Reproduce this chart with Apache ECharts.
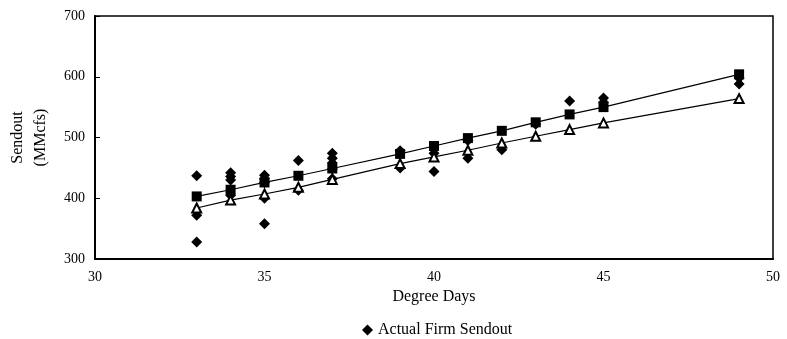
<!DOCTYPE html>
<html>
<head>
<meta charset="utf-8">
<script src="https://cdn.jsdelivr.net/npm/echarts@6/dist/echarts.min.js"></script>
<style>html,body{margin:0;padding:0;background:#fff;}#c{width:787px;height:339px;}</style>
</head>
<body>
<div id="c"></div>
<script>
// Actual firm sendout observations [degree days, MMcf]
const actualX = [33,33,33,34,34,34,34,35,35,35,35,35,36,36,37,37,37,37,37,39,39,40,40,41,41,42,43,44,45,45,49,49];
const actualY = [437,372,328,442,436,430,405,438,432,426,400,358,462,413,474,466,458,448,432,478,450,474,444,495,466,480,522,560,565,558,598,588];
// Fitted model 1 (filled squares)
const fitX = [33,34,35,36,37,39,40,41,42,43,44,45,49];
const fit1Y = [403,414,426,437,449,473,486,499,511,525,538,550,604];
// Fitted model 2 (hollow triangles)
const fit2Y = [384,397,407,418,431,457,468,479,491,502,513,524,564];
const xTicks = [30,35,40,45,50];
const yTicks = [300,400,500,600,700];
const legendName = 'Actual Firm Sendout';

const font = '"Liberation Serif", "DejaVu Serif", serif';
const pair = (xs, ys) => xs.map((x, i) => [x, ys[i]]);

const chart = echarts.init(document.getElementById('c'));
chart.setOption({
  animation: false,
  backgroundColor: '#fff',
  textStyle: { fontFamily: font, color: '#000' },
  grid: { left: 95, right: 14, top: 16, bottom: 80, containLabel: false, outerBoundsMode: 'none',
          show: true, borderColor: '#000', borderWidth: 1.5 },
  legend: {
    data: [legendName], left: 357, top: 317, icon: 'diamond', itemWidth: 11, itemHeight: 11, itemGap: 4,
    textStyle: { fontFamily: font, fontSize: 16, color: '#000' }
  },
  xAxis: {
    type: 'value', min: xTicks[0], max: xTicks[xTicks.length - 1], interval: 5,
    name: 'Degree Days', nameLocation: 'middle', nameGap: 25,
    nameTextStyle: { fontFamily: font, fontSize: 16, color: '#000' },
    axisLine: { lineStyle: { color: '#000', width: 2 } },
    axisTick: { show: false },
    axisLabel: { fontFamily: font, fontSize: 14, color: '#000', margin: 11 },
    splitLine: { show: false }
  },
  yAxis: {
    type: 'value', min: yTicks[0], max: yTicks[yTicks.length - 1], interval: 100,
    name: 'Sendout\n(MMcfs)', nameLocation: 'middle', nameGap: 43, nameRotate: 90,
    nameTextStyle: { fontFamily: font, fontSize: 16, color: '#000', lineHeight: 23 },
    axisLine: { show: true, lineStyle: { color: '#000', width: 2 } },
    axisTick: { show: true, inside: true, length: 5, lineStyle: { color: '#000' } },
    axisLabel: { fontFamily: font, fontSize: 14, color: '#000', margin: 10 },
    splitLine: { show: false }
  },
  series: [
    {
      name: legendName, type: 'scatter', data: pair(actualX, actualY),
      symbol: 'diamond', symbolSize: 11, itemStyle: { color: '#000', opacity: 1 }, z: 2
    },
    {
      name: 'Model 1', type: 'line', data: pair(fitX, fit1Y),
      symbol: 'rect', symbolSize: 10, showAllSymbol: true,
      lineStyle: { color: '#000', width: 1.2 }, itemStyle: { color: '#000' }, z: 3
    },
    {
      name: 'Model 2', type: 'line', data: pair(fitX, fit2Y),
      symbol: 'triangle', symbolSize: 9, showAllSymbol: true,
      lineStyle: { color: '#000', width: 1.2 },
      itemStyle: { color: '#fff', borderColor: '#000', borderWidth: 2 }, z: 4
    }
  ]
});
</script>
</body>
</html>
